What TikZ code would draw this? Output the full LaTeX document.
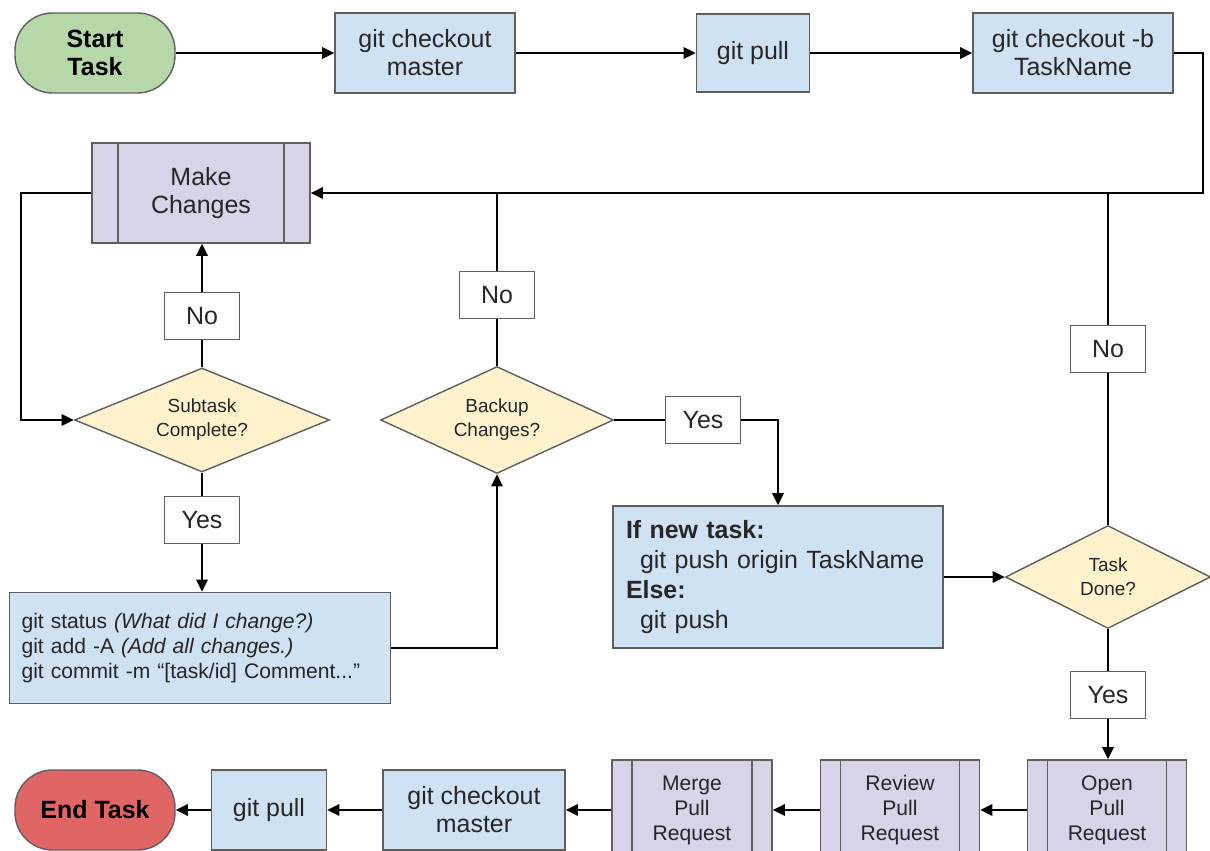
\documentclass[tikz,border=0pt]{standalone}
\usepackage{fontspec}
\setmainfont{Liberation Sans}
\usetikzlibrary{shapes.geometric,arrows.meta}
\newcommand{\pxUnit}[0]{0.02cm}
\newcommand{\mainSize}[0]{\fontsize{14.2}{16}\selectfont}
\newcommand{\pushSize}[0]{\fontsize{14.2}{17}\selectfont}
\newcommand{\cmdSize}[0]{\fontsize{12}{14.2}\selectfont}
\newcommand{\askSize}[0]{\fontsize{10.8}{13.7}\selectfont}
\definecolor{edgecol}{HTML}{5F5F5F}
\definecolor{txtcol}{HTML}{262626}
\definecolor{startfill}{HTML}{B6D7A8}
\definecolor{endfill}{HTML}{E06666}
\definecolor{cmdfill}{HTML}{CFE2F3}
\definecolor{procfill}{HTML}{D9D2E9}
\definecolor{askfill}{HTML}{FFF2CC}

\begin{document}
\begin{tikzpicture}[x=\pxUnit, y=-\pxUnit]
  \tikzset{
    every node/.style={align=center, text=txtcol, inner sep=0pt},
    box/.style={draw=edgecol, line width=0.8pt, font=\mainSize},
    term/.style={box, rounded corners=0.75cm, minimum width=3.2cm, minimum height=1.6cm, font=\mainSize\bfseries, text=black},
    cmdbox/.style={box, fill=cmdfill},
    procbox/.style={box, fill=procfill, path picture={
      \draw[edgecol, line width=0.8pt]
        ([xshift=#1]path picture bounding box.north west) -- ([xshift=#1]path picture bounding box.south west)
        ([xshift=-#1]path picture bounding box.north east) -- ([xshift=-#1]path picture bounding box.south east);}},
    procbox/.default=0.52cm,
    decision/.style={diamond, draw=edgecol, line width=0.8pt, fill=askfill, font=\askSize},
    answer/.style={draw=edgecol, fill=white, line width=0.8pt, font=\mainSize, minimum width=1.5cm, minimum height=0.93cm},
    flow/.style={line width=1.3pt, draw=black},
    arr/.style={flow, -{Triangle[length=7pt,width=6.5pt]}}
  }
  \useasboundingbox (0,0) rectangle (1210,851);

  % top row
  \node[term, fill=startfill] (start) at (95,53) {Start\\Task};
  \node[cmdbox, minimum width=3.6cm, minimum height=1.6cm] (checkout) at (425,53) {git checkout\\master};
  \node[cmdbox, minimum width=2.26cm, minimum height=1.56cm] (pull) at (753,53) {git pull};
  \node[cmdbox, minimum width=4cm, minimum height=1.6cm] (branch) at (1073,53) {git checkout -b\\TaskName};

  % work loop
  \node[procbox, minimum width=4.36cm, minimum height=2cm] (changes) at (201,193) {Make\\Changes};
  \node[decision, shape aspect=2.45, minimum width=5.1cm, minimum height=2.08cm] (subtask) at (202,420) {Subtask\\Complete?};
  \node[answer] (subNo) at (202,316) {No};
  \node[answer] (subYes) at (202,520) {Yes};
  \node[cmdbox, font=\cmdSize, align=left, text width=7.14cm, inner xsep=0.24cm, minimum height=2.22cm] (commit) at (200,648)
    {git status \textit{(What did I change?)}\\git add -A \textit{(Add all changes.)}\\git commit -m “[task/id] Comment...”};
  \node[decision, shape aspect=2.2, minimum width=4.66cm, minimum height=2.14cm] (backup) at (497,420) {Backup\\Changes?};
  \node[answer] (backNo) at (497,295) {No};
  \node[answer] (backYes) at (703,420) {Yes};
  \node[cmdbox, font=\pushSize, align=left, text width=6.08cm, inner xsep=0.26cm, minimum height=2.84cm] (push) at (778,577)
    {\textbf{If new task:}\\\hspace*{0.28cm}git push origin TaskName\\\textbf{Else:}\\\hspace*{0.28cm}git push};
  \node[decision, shape aspect=2, minimum width=4.1cm, minimum height=2.06cm] (done) at (1108,577) {Task\\Done?};
  \node[answer] (doneNo) at (1108,349) {No};
  \node[answer] (doneYes) at (1108,695) {Yes};

  % bottom row
  \node[procbox=0.4cm, font=\cmdSize, minimum width=3.18cm, minimum height=2cm] (open) at (1107,810) {Open\\Pull\\Request};
  \node[procbox=0.4cm, font=\cmdSize, minimum width=3.18cm, minimum height=2cm] (review) at (900,810) {Review\\Pull\\Request};
  \node[procbox=0.4cm, font=\cmdSize, minimum width=3.2cm, minimum height=2cm] (merge) at (692,810) {Merge\\Pull\\Request};
  \node[cmdbox, minimum width=3.64cm, minimum height=1.6cm] (checkoutB) at (474,810) {git checkout\\master};
  \node[cmdbox, minimum width=2.3cm, minimum height=1.6cm] (pullB) at (269,810) {git pull};
  \node[term, fill=endfill] (finish) at (95,810) {End Task};

  \coordinate (back) at (1203,193);

  \draw[arr] (start) -- (checkout);
  \draw[arr] (checkout) -- (pull);
  \draw[arr] (pull) -- (branch);
  \draw[arr] (branch.east) -- (branch.east -| back) -- (back) -- (changes.east);
  \draw[arr] (changes.west) -- ++(-70,0) |- (subtask.west);
  \draw[flow] (subtask.north) -- (subNo);
  \draw[arr] (subNo) -- (subNo |- changes.south);
  \draw[flow] (subtask.south) -- (subYes);
  \draw[arr] (subYes) -- (subYes |- commit.north);
  \draw[arr] (commit.east) -| (backup.south);
  \draw[flow] (backup.north) -- (backNo);
  \draw[flow] (backNo) -- (backNo |- back);
  \draw[flow] (backup.east) -- (backYes.west);
  \draw[arr] (backYes.east) -| (push.north);
  \draw[arr] (push.east) -- (done.west);
  \draw[flow] (done.north) -- (doneNo);
  \draw[flow] (doneNo) -- (doneNo |- back);
  \draw[flow] (done.south) -- (doneYes);
  \draw[arr] (doneYes) -- (doneYes |- open.north);
  \draw[arr] (open) -- (review);
  \draw[arr] (review) -- (merge);
  \draw[arr] (merge) -- (checkoutB);
  \draw[arr] (checkoutB) -- (pullB);
  \draw[arr] (pullB) -- (finish);
\end{tikzpicture}
\end{document}
